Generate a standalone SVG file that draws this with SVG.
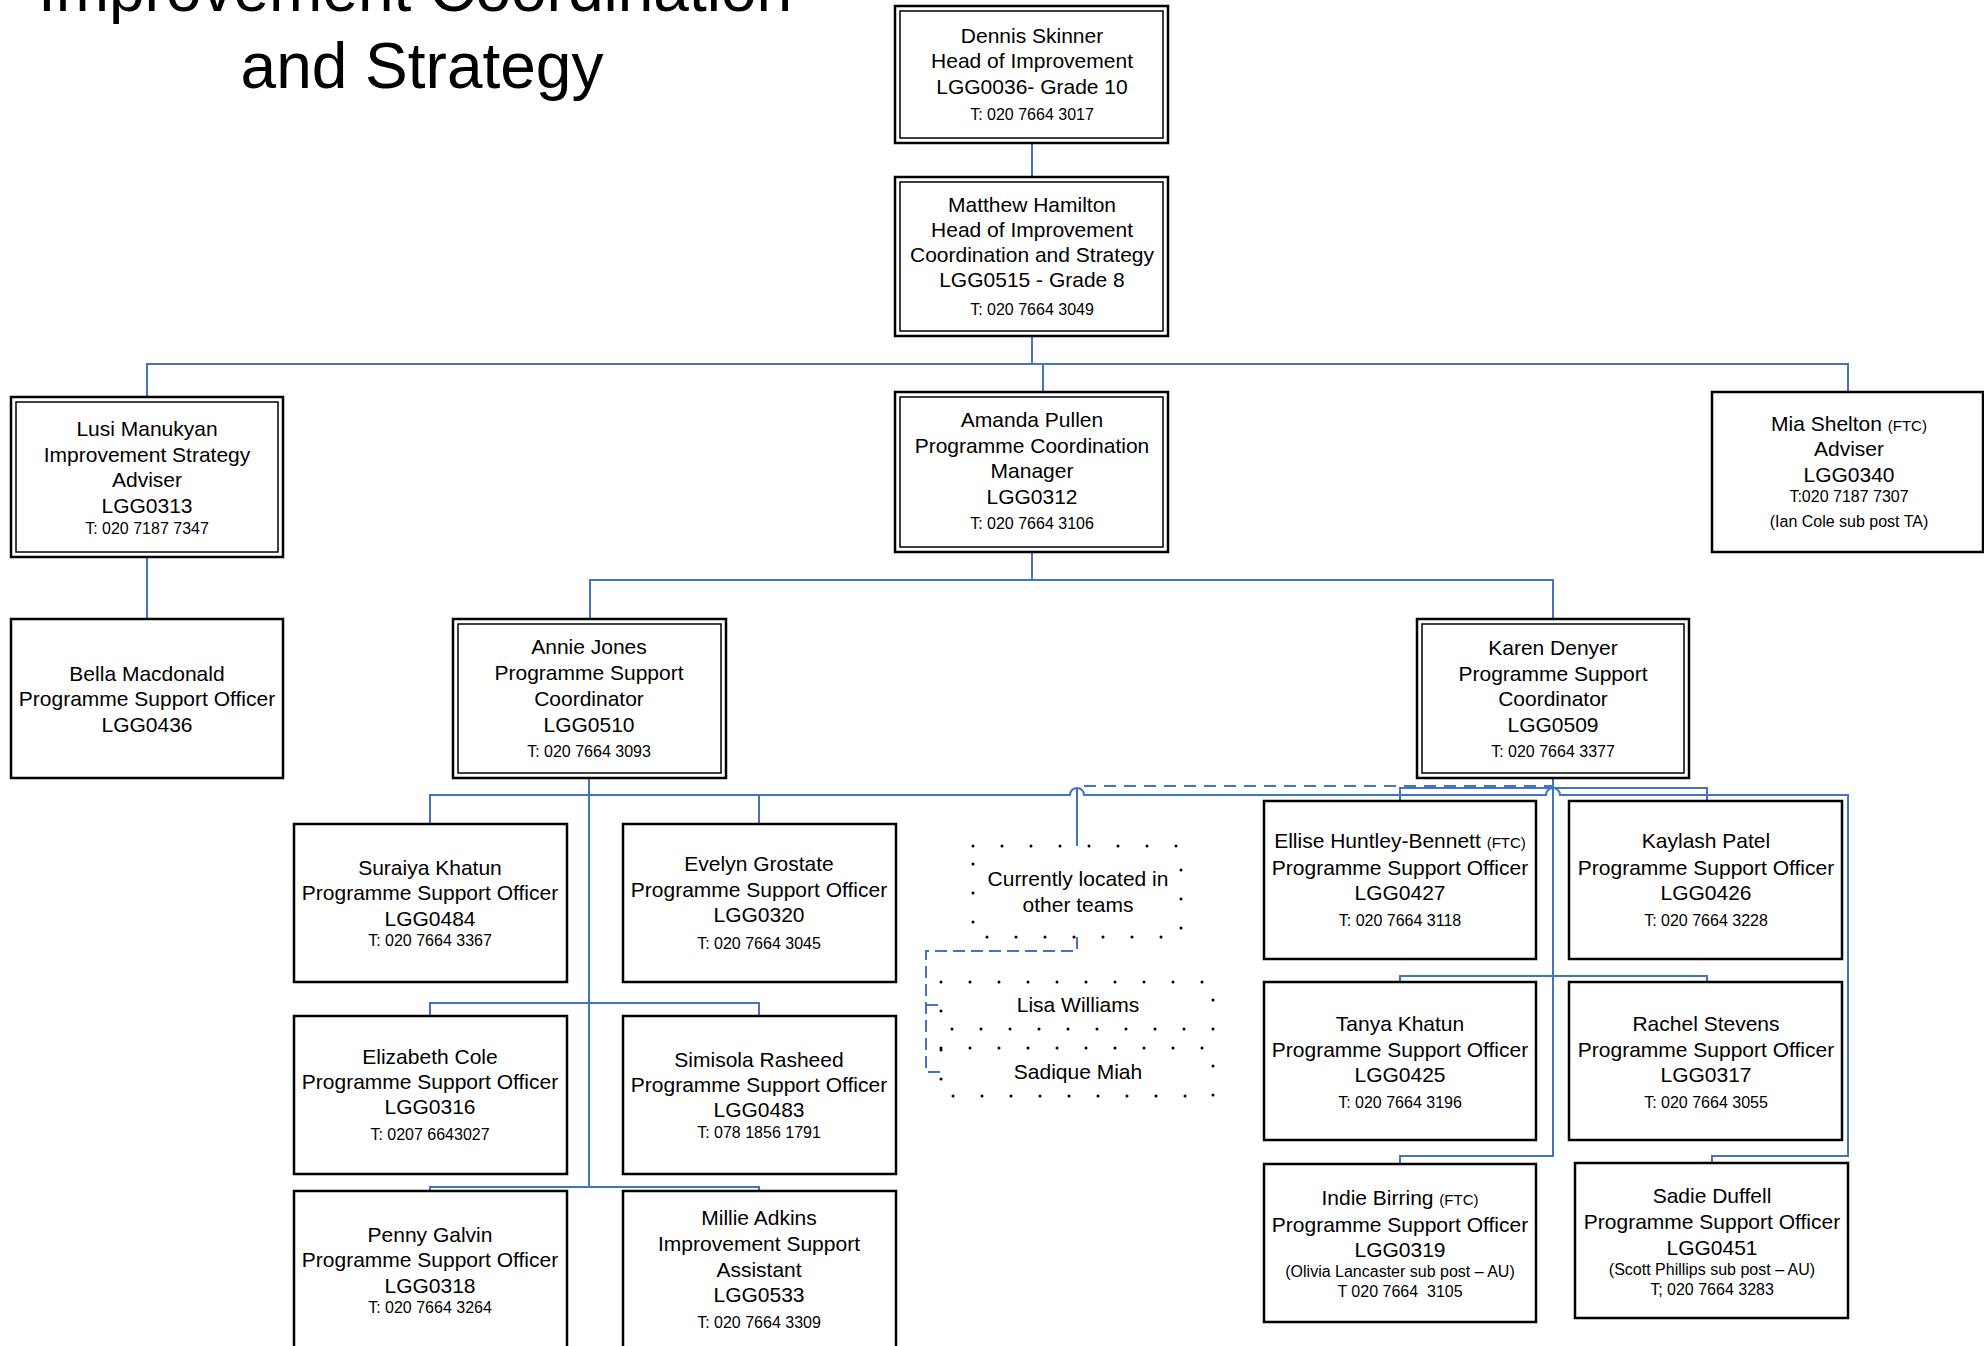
<svg xmlns="http://www.w3.org/2000/svg" width="1984" height="1346" viewBox="0 0 1984 1346">
<style>
.bx{fill:#fff;stroke:#000;stroke-width:2.5}
.in{fill:none;stroke:#000;stroke-width:1.5}
.t{font-family:"Liberation Sans",Arial,sans-serif;font-size:21px;text-anchor:middle;fill:#000}
.s{font-size:16px}
.f{font-size:15px}
.c{fill:none;stroke:#4472C4;stroke-width:2}
.d{stroke-dasharray:12 8}
.d2{stroke-dasharray:12 6}
.dot{fill:none;stroke:#000;stroke-width:3;stroke-dasharray:0 29;stroke-linecap:round}
.title{font-family:"Liberation Sans",Arial,sans-serif;font-size:64px;text-anchor:middle;fill:#000}
</style>
<rect width="1984" height="1346" fill="#fff"/>
<text class="title" x="415" y="11">Improvement Coordination</text>
<text class="title" x="422" y="88">and Strategy</text>

<g id="connectors">
<path class="c" d="M1032,143 V177"/>
<path class="c" d="M1032,336 V364"/>
<path class="c" d="M147,397 V364 H1848 V392"/>
<path class="c" d="M1043,364 V392"/>
<path class="c" d="M147,557 V619"/>
<path class="c" d="M1032,552 V580"/>
<path class="c" d="M590,619 V580 H1553 V619"/>
<path class="c" d="M589,777 V1187"/>
<path class="c" d="M430,824 V795 H1070 A7,7 0 0 1 1084,795 H1546 A7,7 0 0 1 1560,795 H1848 V1156 H1712 V1163"/>
<path class="c" d="M759,795 V824"/>
<path class="c" d="M430,1016 V1003 H759 V1016"/>
<path class="c" d="M430,1191 V1187 H759 V1191"/>
<path class="c" d="M1553,777 V1156 H1400 V1164"/>
<path class="c" d="M1400,801 V788 H1707 V801"/>
<path class="c" d="M1400,982 V976 H1707 V982"/>
<path class="c" d="M1077,846 V788"/>
<path class="c d" d="M1084,786 H1553"/>
<path class="c d2" d="M1077,937 V951 H926 V1072 H941"/>
<path class="c d2" d="M926,1005 H941"/>
</g>

<g id="dennis">
<rect class="bx" x="895" y="6" width="273" height="137"/>
<rect class="in" x="900" y="11" width="263" height="127"/>
<text class="t" x="1032" y="43">Dennis Skinner</text>
<text class="t" x="1032" y="68">Head of Improvement</text>
<text class="t" x="1032" y="94">LGG0036- Grade 10</text>
<text class="t s" x="1032" y="120">T: 020 7664 3017</text>
</g>

<g id="matthew">
<rect class="bx" x="895" y="177" width="273" height="159"/>
<rect class="in" x="900" y="182" width="263" height="149"/>
<text class="t" x="1032" y="212">Matthew Hamilton</text>
<text class="t" x="1032" y="237">Head of Improvement</text>
<text class="t" x="1032" y="262">Coordination and Strategy</text>
<text class="t" x="1032" y="287">LGG0515 - Grade 8</text>
<text class="t s" x="1032" y="315">T: 020 7664 3049</text>
</g>

<g id="lusi">
<rect class="bx" x="11" y="397" width="272" height="160"/>
<rect class="in" x="16" y="402" width="262" height="150"/>
<text class="t" x="147" y="436">Lusi Manukyan</text>
<text class="t" x="147" y="462">Improvement Strategy</text>
<text class="t" x="147" y="487">Adviser</text>
<text class="t" x="147" y="513">LGG0313</text>
<text class="t s" x="147" y="534">T: 020 7187 7347</text>
</g>

<g id="amanda">
<rect class="bx" x="895" y="392" width="273" height="160"/>
<rect class="in" x="900" y="397" width="263" height="150"/>
<text class="t" x="1032" y="427">Amanda Pullen</text>
<text class="t" x="1032" y="453">Programme Coordination</text>
<text class="t" x="1032" y="478">Manager</text>
<text class="t" x="1032" y="504">LGG0312</text>
<text class="t s" x="1032" y="529">T: 020 7664 3106</text>
</g>

<g id="mia">
<rect class="bx" x="1712" y="392" width="271" height="160"/>
<text class="t" x="1849" y="431">Mia Shelton <tspan class="f">(FTC)</tspan></text>
<text class="t" x="1849" y="456">Adviser</text>
<text class="t" x="1849" y="482">LGG0340</text>
<text class="t s" x="1849" y="502">T:020 7187 7307</text>
<text class="t s" x="1849" y="527">(Ian Cole sub post TA)</text>
</g>

<g id="bella">
<rect class="bx" x="11" y="619" width="272" height="159"/>
<text class="t" x="147" y="681">Bella Macdonald</text>
<text class="t" x="147" y="706">Programme Support Officer</text>
<text class="t" x="147" y="732">LGG0436</text>
</g>

<g id="annie">
<rect class="bx" x="453" y="619" width="273" height="159"/>
<rect class="in" x="458" y="624" width="263" height="149"/>
<text class="t" x="589" y="654">Annie Jones</text>
<text class="t" x="589" y="680">Programme Support</text>
<text class="t" x="589" y="706">Coordinator</text>
<text class="t" x="589" y="732">LGG0510</text>
<text class="t s" x="589" y="757">T: 020 7664 3093</text>
</g>

<g id="karen">
<rect class="bx" x="1417" y="619" width="272" height="159"/>
<rect class="in" x="1422" y="624" width="262" height="149"/>
<text class="t" x="1553" y="655">Karen Denyer</text>
<text class="t" x="1553" y="681">Programme Support</text>
<text class="t" x="1553" y="706">Coordinator</text>
<text class="t" x="1553" y="732">LGG0509</text>
<text class="t s" x="1553" y="757">T: 020 7664 3377</text>
</g>

<g id="suraiya">
<rect class="bx" x="294" y="824" width="273" height="158"/>
<text class="t" x="430" y="875">Suraiya Khatun</text>
<text class="t" x="430" y="900">Programme Support Officer</text>
<text class="t" x="430" y="926">LGG0484</text>
<text class="t s" x="430" y="946">T: 020 7664 3367</text>
</g>

<g id="evelyn">
<rect class="bx" x="623" y="824" width="273" height="158"/>
<text class="t" x="759" y="871">Evelyn Grostate</text>
<text class="t" x="759" y="897">Programme Support Officer</text>
<text class="t" x="759" y="922">LGG0320</text>
<text class="t s" x="759" y="949">T: 020 7664 3045</text>
</g>

<g id="elizabeth">
<rect class="bx" x="294" y="1016" width="273" height="158"/>
<text class="t" x="430" y="1064">Elizabeth Cole</text>
<text class="t" x="430" y="1089">Programme Support Officer</text>
<text class="t" x="430" y="1114">LGG0316</text>
<text class="t s" x="430" y="1140">T: 0207 6643027</text>
</g>

<g id="simisola">
<rect class="bx" x="623" y="1016" width="273" height="158"/>
<text class="t" x="759" y="1067">Simisola Rasheed</text>
<text class="t" x="759" y="1092">Programme Support Officer</text>
<text class="t" x="759" y="1117">LGG0483</text>
<text class="t s" x="759" y="1138">T: 078 1856 1791</text>
</g>

<g id="penny">
<rect class="bx" x="294" y="1191" width="273" height="170"/>
<text class="t" x="430" y="1242">Penny Galvin</text>
<text class="t" x="430" y="1267">Programme Support Officer</text>
<text class="t" x="430" y="1293">LGG0318</text>
<text class="t s" x="430" y="1313">T: 020 7664 3264</text>
</g>

<g id="millie">
<rect class="bx" x="623" y="1191" width="273" height="170"/>
<text class="t" x="759" y="1225">Millie Adkins</text>
<text class="t" x="759" y="1251">Improvement Support</text>
<text class="t" x="759" y="1277">Assistant</text>
<text class="t" x="759" y="1302">LGG0533</text>
<text class="t s" x="759" y="1328">T: 020 7664 3309</text>
</g>

<g id="currently">
<rect class="dot" x="973" y="846" width="208" height="91"/>
<text class="t" x="1078" y="886">Currently located in</text>
<text class="t" x="1078" y="912">other teams</text>
</g>

<g id="lisa">
<rect class="dot" x="941" y="982" width="272" height="47"/>
<text class="t" x="1078" y="1012">Lisa Williams</text>
</g>

<g id="sadique">
<rect class="dot" x="941" y="1048" width="272" height="48"/>
<text class="t" x="1078" y="1079">Sadique Miah</text>
</g>

<g id="ellise">
<rect class="bx" x="1264" y="801" width="272" height="158"/>
<text class="t" x="1400" y="848">Ellise Huntley-Bennett <tspan class="f">(FTC)</tspan></text>
<text class="t" x="1400" y="875">Programme Support Officer</text>
<text class="t" x="1400" y="900">LGG0427</text>
<text class="t s" x="1400" y="926">T: 020 7664 3118</text>
</g>

<g id="kaylash">
<rect class="bx" x="1569" y="801" width="273" height="158"/>
<text class="t" x="1706" y="848">Kaylash Patel</text>
<text class="t" x="1706" y="875">Programme Support Officer</text>
<text class="t" x="1706" y="900">LGG0426</text>
<text class="t s" x="1706" y="926">T: 020 7664 3228</text>
</g>

<g id="tanya">
<rect class="bx" x="1264" y="982" width="272" height="158"/>
<text class="t" x="1400" y="1031">Tanya Khatun</text>
<text class="t" x="1400" y="1057">Programme Support Officer</text>
<text class="t" x="1400" y="1082">LGG0425</text>
<text class="t s" x="1400" y="1108">T: 020 7664 3196</text>
</g>

<g id="rachel">
<rect class="bx" x="1569" y="982" width="273" height="158"/>
<text class="t" x="1706" y="1031">Rachel Stevens</text>
<text class="t" x="1706" y="1057">Programme Support Officer</text>
<text class="t" x="1706" y="1082">LGG0317</text>
<text class="t s" x="1706" y="1108">T: 020 7664 3055</text>
</g>

<g id="indie">
<rect class="bx" x="1264" y="1164" width="272" height="158"/>
<text class="t" x="1400" y="1205">Indie Birring <tspan class="f">(FTC)</tspan></text>
<text class="t" x="1400" y="1232">Programme Support Officer</text>
<text class="t" x="1400" y="1257">LGG0319</text>
<text class="t s" x="1400" y="1277">(Olivia Lancaster sub post – AU)</text>
<text class="t s" x="1400" y="1297" xml:space="preserve">T 020 7664  3105</text>
</g>

<g id="sadie">
<rect class="bx" x="1575" y="1163" width="273" height="155"/>
<text class="t" x="1712" y="1203">Sadie Duffell</text>
<text class="t" x="1712" y="1229">Programme Support Officer</text>
<text class="t" x="1712" y="1255">LGG0451</text>
<text class="t s" x="1712" y="1275">(Scott Phillips sub post – AU)</text>
<text class="t s" x="1712" y="1295">T; 020 7664 3283</text>
</g>
</svg>
